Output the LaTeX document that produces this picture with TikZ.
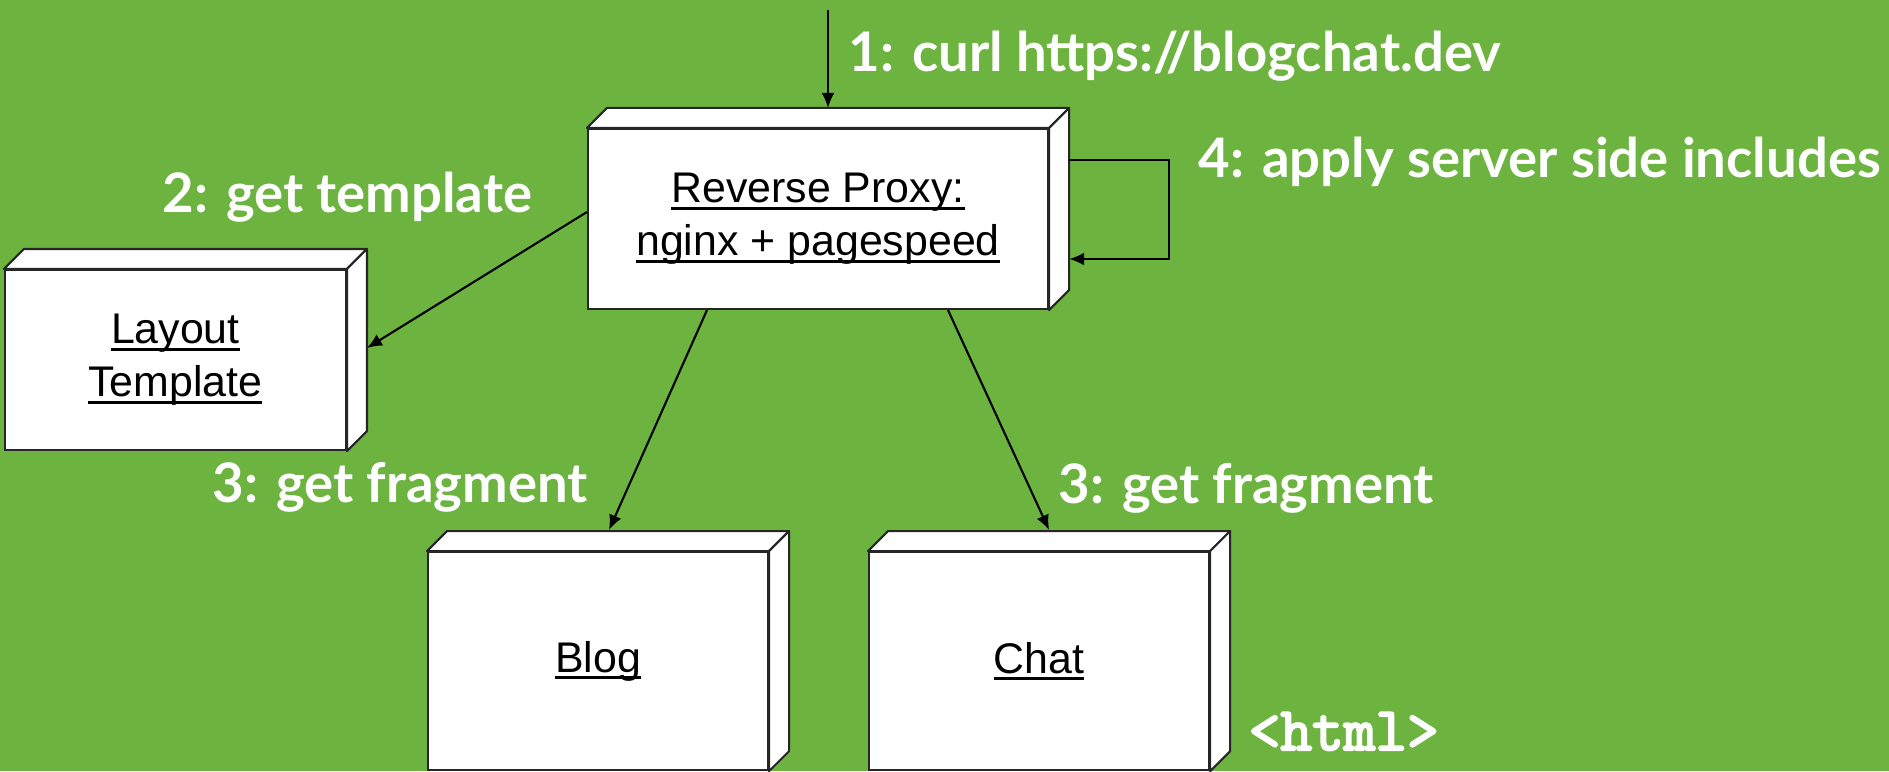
\documentclass[tikz,border=0pt]{standalone}
\usepackage{fontspec}
\usepackage{xcolor}
\usepackage{tikz}
\usetikzlibrary{arrows.meta}
\usetikzlibrary{positioning}
\newfontfamily\labelfont{Lato}
\newfontfamily\boxfont{Liberation Sans}
\newfontfamily\codefont{Latin Modern Mono}[FakeBold=3.5]
\definecolor{spring}{HTML}{6CB33F}
\newsavebox\ulbox
\newcommand\boxul[1]{\sbox\ulbox{#1}\rlap{\rule[-2pt]{\wd\ulbox}{0.8pt}}\usebox\ulbox}
\newcommand\boxsides[1]{%
    \filldraw[box-side] (#1.north west) -- ++(0.2,0.2) -- ([shift={(0.2,0.2)}]#1.north east) -- (#1.north east) -- cycle;
    \filldraw[box-side] (#1.north east) -- ++(0.2,0.2) -- ([shift={(0.2,0.2)}]#1.south east) -- (#1.south east) -- cycle;
}
\tikzset{>={Latex[length=4.3pt, width=3.7pt]}}
\tikzset{flow-line/.style={line width=0.6pt, black}}
\tikzset{box-side/.style={fill=white, draw=black!85, line width=0.6pt, line join=round}}
\tikzset{deploy-node/.style={draw=black!85, fill=white, line width=0.6pt, inner sep=0, align=center, minimum width=3.4cm, font=\boxfont\fontsize{12.2pt}{15pt}\selectfont}}
\tikzset{step-label/.style={text=white, inner sep=0, anchor=base west, font=\labelfont\bfseries\fontsize{15.5pt}{18pt}\selectfont}}

\begin{document}
\begin{tikzpicture}[]
            \fill[spring] (0,0) rectangle (18.89,-7.71);
            \useasboundingbox (0,0) rectangle (18.89,-7.71);

            \node[deploy-node, minimum width=4.6cm, minimum height=1.8cm] (proxy) at (8.18,-2.19) {\boxul{Reverse Proxy:}\\\boxul{nginx + pagespeed}};
            \node[deploy-node, minimum width=3.41cm, minimum height=1.8cm, left=2.4cm of proxy.west, yshift=-1.41cm] (layout) {\boxul{Layout}\\\boxul{Template}};
            \node[deploy-node, minimum height=2.18cm, below=2.41cm of proxy, xshift=-2.2cm] (blog) {\boxul{Blog}};
            \node[deploy-node, minimum height=2.18cm, right=0.99cm of blog] (chat) {\boxul{Chat}};

            \boxsides{proxy}
            \boxsides{layout}
            \boxsides{blog}
            \boxsides{chat}

            \coordinate (curl-in) at (8.28,-0.10);
            \coordinate (proxy-top) at ([yshift=0.2cm]proxy.north);

            \draw[->, flow-line] (curl-in) -- (curl-in |- proxy-top);
            \draw[->, flow-line] ([shift={(0.2,0.59)}]proxy.east) -- ++(1,0) -- ++(0,-0.99) -- ++(-1,0);
            \draw[->, flow-line] ([yshift=0.07cm]proxy.west) -- ([shift={(0.2,0.12)}]layout.east);
            \draw[->, flow-line] ([xshift=-1.11cm]proxy.south) -- ([shift={(0.11,0.21)}]blog.north);
            \draw[->, flow-line] ([xshift=1.30cm]proxy.south) -- ([shift={(0.10,0.21)}]chat.north);

            \node[step-label] (curl-label) at (8.48,-0.72) {1: curl https://blogchat.dev};
            \node[step-label] (template-label) at (1.62,-2.12) {2: get template};
            \node[step-label] (blog-label) at (2.12,-5.02) {3: get fragment};
            \node[step-label] (chat-label) at (10.58,-5.03) {3: get fragment};
            \node[step-label] (ssi-label) at (11.98,-1.78) {4: apply server side includes};
            \node[step-label, font=\codefont\fontsize{17.5pt}{20pt}\selectfont] (html-label) at (12.48,-7.50) {<html>};

        \end{tikzpicture}
\end{document}
